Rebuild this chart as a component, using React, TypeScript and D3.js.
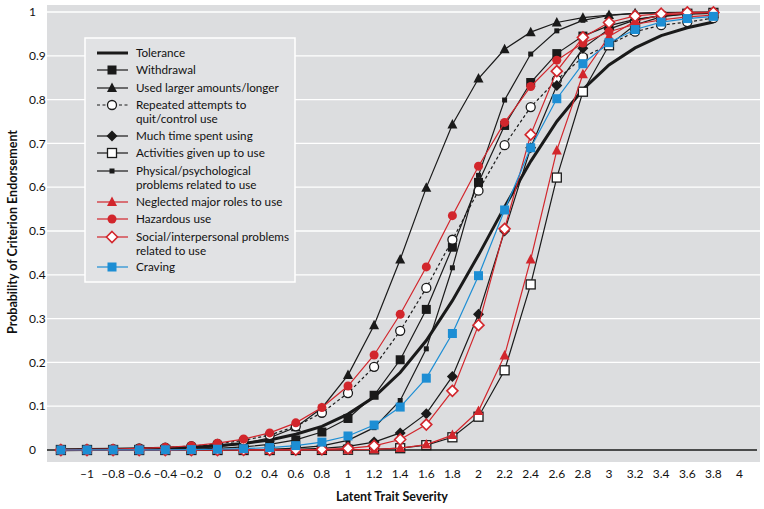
import React from "react";
import * as d3 from "d3";

const xs = [-1.2, -1.0, -0.8, -0.6, -0.4, -0.2, 0, 0.2, 0.4, 0.6, 0.8, 1.0, 1.2, 1.4, 1.6, 1.8, 2.0, 2.2, 2.4, 2.6, 2.8, 3.0, 3.2, 3.4, 3.6, 3.8];

const tolerance = [0.0007, 0.0011, 0.0017, 0.0026, 0.0041, 0.0063, 0.0098, 0.015, 0.023, 0.036, 0.054, 0.082, 0.121, 0.177, 0.25, 0.341, 0.445, 0.555, 0.659, 0.75, 0.823, 0.879, 0.918, 0.946, 0.964, 0.977];
const withdrawal = [0.0001, 0.0002, 0.0004, 0.0006, 0.0012, 0.0021, 0.0039, 0.007, 0.0127, 0.023, 0.041, 0.072, 0.125, 0.206, 0.321, 0.463, 0.611, 0.741, 0.839, 0.905, 0.945, 0.969, 0.983, 0.991, 0.995, 0.997];
const usedLarger = [0.0001, 0.0003, 0.0005, 0.001, 0.002, 0.0039, 0.0075, 0.0145, 0.028, 0.052, 0.096, 0.171, 0.285, 0.435, 0.599, 0.743, 0.848, 0.915, 0.954, 0.976, 0.987, 0.993, 0.997, 0.998, 0.999, 1.0];
const repeated = [0.0009, 0.0014, 0.0022, 0.0036, 0.0056, 0.0089, 0.014, 0.022, 0.034, 0.054, 0.085, 0.13, 0.19, 0.272, 0.37, 0.48, 0.592, 0.696, 0.783, 0.845, 0.897, 0.925, 0.955, 0.97, 0.977, 0.986];
const muchTime = [0, 0, 0, 0, 0, 0.0001, 0.0002, 0.0003, 0.0007, 0.0017, 0.0037, 0.0082, 0.018, 0.039, 0.083, 0.168, 0.31, 0.5, 0.69, 0.832, 0.917, 0.961, 0.982, 0.992, 0.996, 0.998];
const activities = [0, 0, 0, 0, 0, 0, 0, 0, 0, 0.0001, 0.0002, 0.0006, 0.0015, 0.0041, 0.011, 0.029, 0.076, 0.182, 0.378, 0.622, 0.818, 0.924, 0.971, 0.989, 0.996, 0.998];
const physical = [0, 0, 0, 0, 0.0001, 0.0001, 0.0003, 0.0007, 0.0017, 0.0041, 0.0096, 0.022, 0.051, 0.113, 0.231, 0.416, 0.627, 0.799, 0.904, 0.957, 0.981, 0.992, 0.997, 0.999, 0.999, 1.0];
const neglected = [0, 0, 0, 0, 0, 0, 0, 0, 0, 0.0001, 0.0002, 0.0006, 0.0016, 0.0045, 0.0124, 0.034, 0.089, 0.216, 0.435, 0.684, 0.858, 0.944, 0.979, 0.993, 0.997, 0.999];
const hazardous = [0.0009, 0.0014, 0.0023, 0.0037, 0.006, 0.0097, 0.0155, 0.025, 0.039, 0.062, 0.097, 0.146, 0.217, 0.31, 0.418, 0.535, 0.648, 0.748, 0.83, 0.89, 0.929, 0.955, 0.972, 0.982, 0.989, 0.993];
const social = [0, 0, 0, 0, 0, 0, 0, 0.0001, 0.0002, 0.0006, 0.0015, 0.0038, 0.0095, 0.024, 0.058, 0.135, 0.285, 0.505, 0.72, 0.865, 0.942, 0.976, 0.991, 0.996, 0.999, 0.999];
const craving = [0, 0.0001, 0.0002, 0.0003, 0.0005, 0.0009, 0.0017, 0.003, 0.0055, 0.01, 0.018, 0.032, 0.057, 0.098, 0.164, 0.266, 0.398, 0.548, 0.69, 0.802, 0.882, 0.93, 0.96, 0.977, 0.985, 0.99];

const seriesNames = [
  ["Tolerance"],
  ["Withdrawal"],
  ["Used larger amounts/longer"],
  ["Repeated attempts to", "quit/control use"],
  ["Much time spent using"],
  ["Activities given up to use"],
  ["Physical/psychological", "problems related to use"],
  ["Neglected major roles to use"],
  ["Hazardous use"],
  ["Social/interpersonal problems", "related to use"],
  ["Craving"],
];

const xTicks = [-1, -0.8, -0.6, -0.4, -0.2, 0, 0.2, 0.4, 0.6, 0.8, 1, 1.2, 1.4, 1.6, 1.8, 2, 2.2, 2.4, 2.6, 2.8, 3, 3.2, 3.4, 3.6, 3.8, 4];
const yTicks = [0, 0.1, 0.2, 0.3, 0.4, 0.5, 0.6, 0.7, 0.8, 0.9, 1];

const RED = "#d2262c";
const BLUE = "#1d8ed4";
const BLACK = "#1a1a1a";
const TEXT = "#111111";

type Marker = "none" | "square" | "triangle" | "circle" | "diamond" | "smallsquare";
interface Style { color: string; width: number; dash?: string; marker: Marker; fill: string; stroke: string; size: number; sw: number; }

const styles: Style[] = [
  { color: BLACK, width: 3, marker: "none", fill: BLACK, stroke: BLACK, size: 0, sw: 0 },
  { color: BLACK, width: 1.2, marker: "square", fill: BLACK, stroke: BLACK, size: 9, sw: 0 },
  { color: BLACK, width: 1.2, marker: "triangle", fill: BLACK, stroke: BLACK, size: 10, sw: 0 },
  { color: BLACK, width: 1.2, dash: "3,2.5", marker: "circle", fill: "#ffffff", stroke: BLACK, size: 9, sw: 1.3 },
  { color: BLACK, width: 1.2, marker: "diamond", fill: BLACK, stroke: BLACK, size: 11, sw: 0 },
  { color: BLACK, width: 1.2, marker: "square", fill: "#ffffff", stroke: BLACK, size: 9, sw: 1.3 },
  { color: BLACK, width: 1.2, marker: "smallsquare", fill: BLACK, stroke: BLACK, size: 5, sw: 0 },
  { color: RED, width: 1.2, marker: "triangle", fill: RED, stroke: RED, size: 10, sw: 0 },
  { color: RED, width: 1.2, marker: "circle", fill: RED, stroke: RED, size: 9, sw: 0 },
  { color: RED, width: 1.2, marker: "diamond", fill: "#ffffff", stroke: RED, size: 11, sw: 1.6 },
  { color: BLUE, width: 1.2, marker: "square", fill: BLUE, stroke: BLUE, size: 9, sw: 0 },
];

const allSeries = [tolerance, withdrawal, usedLarger, repeated, muchTime, activities, physical, neglected, hazardous, social, craving];

function MarkerShape({ m, cx, cy, st }: { m: Marker; cx: number; cy: number; st: Style }) {
  const s = st.size;
  const h = s / 2;
  const common = { fill: st.fill, stroke: st.sw > 0 ? st.stroke : "none", strokeWidth: st.sw };
  if (m === "square" || m === "smallsquare") {
    return <rect x={cx - h} y={cy - h} width={s} height={s} {...common} />;
  }
  if (m === "circle") return <circle cx={cx} cy={cy} r={h} {...common} />;
  if (m === "triangle") {
    const d = `M${cx},${cy - h - 0.5}L${cx + h},${cy + h - 1}L${cx - h},${cy + h - 1}Z`;
    return <path d={d} {...common} />;
  }
  if (m === "diamond") {
    const d = `M${cx},${cy - h}L${cx + h},${cy}L${cx},${cy + h}L${cx - h},${cy}Z`;
    return <path d={d} {...common} />;
  }
  return null;
}

export default function App() {
  const W = 764, H = 509;
  const x = d3.scaleLinear().domain([0, 4]).range([217.5, 739.5]);
  const y = d3.scaleLinear().domain([0, 1]).range([450, 12]);
  const plotL = 47, plotR = 760, plotT = 5, plotB = 462;
  const font = "Lato, 'Open Sans', sans-serif";
  const line = d3.line<number>().x((_, i) => x(xs[i])).y((v) => y(v));
  const fmt = (t: number) => (t < 0 ? "\u2013" + String(Math.abs(t)) : String(t));

  const lgX = 85, lgY = 38, lgW = 210, lgH = 244;
  const rowY = [53, 70, 88, 105, 136, 153, 171, 202, 219, 237, 267];

  return (
    <svg width={W} height={H} style={{ position: "absolute", left: 0, top: 0, background: "#fff" }} fontFamily={font}>
      <rect x={plotL} y={plotT} width={plotR - plotL} height={plotB - plotT} fill="#dcdddf" />
      {yTicks.filter((t) => t > 0).map((t) => (
        <line key={t} x1={plotL} x2={plotR} y1={y(t)} y2={y(t)} stroke="#ffffff" strokeWidth={1.3} />
      ))}
      <line x1={plotL} x2={plotR - 3} y1={y(0)} y2={y(0)} stroke={BLACK} strokeWidth={1.3} />
      {yTicks.map((t) => (
        <text key={t} x={29} y={y(t)} dy="0.35em" fontSize={12} fill={TEXT}>{String(t)}</text>
      ))}
      {xTicks.map((t) => (
        <text key={t} x={x(t)} y={474} dy="0.35em" textAnchor="middle" fontSize={12} fill={TEXT}>{fmt(t)}</text>
      ))}
      <text x={392} y={501} textAnchor="middle" fontSize={12.5} fontWeight="bold" fill={TEXT}>Latent Trait Severity</text>
      <text transform={`translate(13,232) rotate(-90)`} textAnchor="middle" dy="0.35em" fontSize={12.5} fontWeight="bold" fill={TEXT}>Probability of Criterion Endorsement</text>

      <rect x={lgX} y={lgY} width={lgW} height={lgH} fill="#e1e2e4" stroke="#ffffff" strokeWidth={1.5} />
      {styles.map((st, i) => (
        <g key={i}>
          <line x1={97} x2={128} y1={rowY[i]} y2={rowY[i]} stroke={st.color} strokeWidth={st.width} strokeDasharray={st.dash} />
          {st.marker !== "none" && <MarkerShape m={st.marker} cx={112} cy={rowY[i]} st={st} />}
          {seriesNames[i].map((ln, j) => (
            <text key={j} x={136} y={rowY[i] + j * 13.5} dy="0.35em" fontSize={11.7} fill={TEXT}>{ln}</text>
          ))}
        </g>
      ))}

      {allSeries.map((vals, i) => {
        const st = styles[i];
        return (
          <g key={i}>
            <path d={line(vals) || ""} fill="none" stroke={st.color} strokeWidth={st.width} strokeDasharray={st.dash} />
            {st.marker !== "none" && vals.map((v, k) => (
              <MarkerShape key={k} m={st.marker} cx={x(xs[k])} cy={y(v)} st={st} />
            ))}
          </g>
        );
      })}
    </svg>
  );
}
